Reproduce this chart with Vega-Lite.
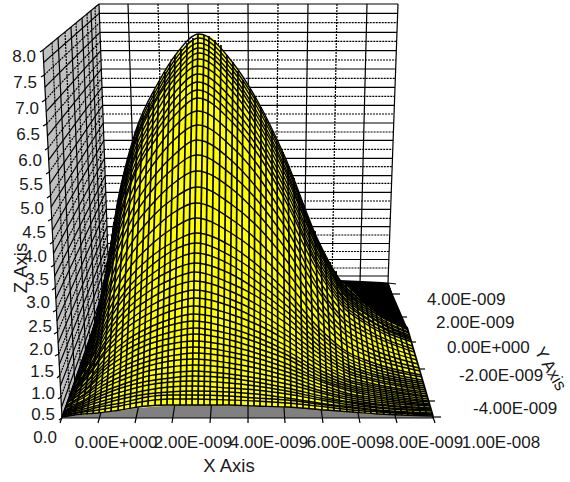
{"$schema":"https://vega.github.io/schema/vega-lite/v6.json","autosize":{"type":"none"},"padding":0,"width":570,"height":482,"background":"white","config":{"view":{"stroke":null},"text":{"font":"Liberation Sans"}},
"datasets":{
"wall":[{"h":43,"top":50,"bot":50},{"h":62,"top":34.4,"bot":418},{"h":99,"top":4,"bot":311.7},{"h":109,"top":283,"bot":283}],
"grid":[
{"h":99,"v":4,"h2":398,"v2":4,"k":"solid"},{"h":99.3,"v":13.3,"h2":397.7,"v2":13.3,"k":"solid"},{"h":99.7,"v":22.7,"h2":397.3,"v2":22.7,"k":"dash"},{"h":100,"v":32.3,"h2":397,"v2":32.3,"k":"solid"},{"h":100.3,"v":41.3,"h2":396.7,"v2":41.3,"k":"dash"},{"h":100.7,"v":50.7,"h2":396.3,"v2":50.7,"k":"solid"},{"h":101,"v":60,"h2":396,"v2":60,"k":"dash"},{"h":101.3,"v":69,"h2":395.7,"v2":69,"k":"solid"},{"h":101.7,"v":78.3,"h2":395.3,"v2":78.3,"k":"dash"},{"h":102,"v":87.3,"h2":395,"v2":87.3,"k":"solid"},{"h":102.3,"v":96.3,"h2":394.7,"v2":96.3,"k":"dash"},{"h":102.6,"v":105.3,"h2":394.4,"v2":105.3,"k":"solid"},{"h":103,"v":114,"h2":394,"v2":114,"k":"dash"},{"h":103.3,"v":123,"h2":393.7,"v2":123,"k":"solid"},{"h":103.6,"v":132,"h2":393.4,"v2":132,"k":"dash"},{"h":103.9,"v":140.3,"h2":393.1,"v2":140.3,"k":"solid"},{"h":104.2,"v":149.3,"h2":392.8,"v2":149.3,"k":"dash"},{"h":104.5,"v":158.3,"h2":392.5,"v2":158.3,"k":"solid"},{"h":104.8,"v":166.7,"h2":392.2,"v2":166.7,"k":"dash"},{"h":105.1,"v":175.7,"h2":391.9,"v2":175.7,"k":"solid"},{"h":105.4,"v":183.3,"h2":391.6,"v2":183.3,"k":"dash"},{"h":105.7,"v":192.3,"h2":391.3,"v2":192.3,"k":"solid"},{"h":106,"v":201,"h2":391,"v2":201,"k":"dash"},{"h":106.3,"v":209.3,"h2":390.7,"v2":209.3,"k":"solid"},{"h":106.7,"v":218.3,"h2":390.3,"v2":218.3,"k":"dash"},{"h":107,"v":226.7,"h2":390,"v2":226.7,"k":"solid"},{"h":107.3,"v":235,"h2":389.7,"v2":235,"k":"dash"},{"h":107.6,"v":243.5,"h2":389.4,"v2":243.5,"k":"solid"},{"h":107.9,"v":251.5,"h2":389.1,"v2":251.5,"k":"dash"},{"h":108.1,"v":259.5,"h2":388.9,"v2":259.5,"k":"solid"},{"h":108.5,"v":268,"h2":388.5,"v2":268,"k":"dash"},{"h":108.7,"v":276,"h2":388.3,"v2":276,"k":"solid"},{"h":109,"v":283,"h2":388,"v2":283,"k":"solid"},
{"h":99,"v":4,"h2":109,"v2":283,"k":"solid"},{"h":128,"v":4,"h2":137,"v2":283,"k":"solid"},{"h":158,"v":4,"h2":165,"v2":283,"k":"dash"},{"h":188,"v":4,"h2":193,"v2":283,"k":"solid"},{"h":218,"v":4,"h2":221,"v2":283,"k":"dash"},{"h":248,"v":4,"h2":249,"v2":283,"k":"solid"},{"h":278,"v":4,"h2":276,"v2":283,"k":"dash"},{"h":308,"v":4,"h2":304,"v2":283,"k":"solid"},{"h":337,"v":4,"h2":332,"v2":283,"k":"dash"},{"h":367,"v":4,"h2":360,"v2":283,"k":"solid"},{"h":398,"v":4,"h2":388,"v2":283,"k":"solid"},
{"h":43,"v":50,"h2":99,"v2":4,"k":"solid"},{"h":43.6,"v":62.5,"h2":99.3,"v2":13.3,"k":"solid"},{"h":44.3,"v":74.9,"h2":99.7,"v2":22.7,"k":"dash"},{"h":44.9,"v":87.2,"h2":100,"v2":32.3,"k":"solid"},{"h":45.6,"v":99.5,"h2":100.3,"v2":41.3,"k":"dash"},{"h":46.2,"v":111.7,"h2":100.7,"v2":50.7,"k":"solid"},{"h":46.8,"v":123.9,"h2":101,"v2":60,"k":"dash"},{"h":47.5,"v":136,"h2":101.3,"v2":69,"k":"solid"},{"h":48.1,"v":148,"h2":101.7,"v2":78.3,"k":"dash"},{"h":48.7,"v":160,"h2":102,"v2":87.3,"k":"solid"},{"h":49.3,"v":171.9,"h2":102.3,"v2":96.3,"k":"dash"},{"h":49.9,"v":183.7,"h2":102.6,"v2":105.3,"k":"solid"},{"h":50.5,"v":195.5,"h2":103,"v2":114,"k":"dash"},{"h":51.1,"v":207.2,"h2":103.3,"v2":123,"k":"solid"},{"h":51.7,"v":218.9,"h2":103.6,"v2":132,"k":"dash"},{"h":52.3,"v":230.5,"h2":103.9,"v2":140.3,"k":"solid"},{"h":52.9,"v":242,"h2":104.2,"v2":149.3,"k":"dash"},{"h":53.5,"v":253.5,"h2":104.5,"v2":158.3,"k":"solid"},{"h":54.1,"v":264.9,"h2":104.8,"v2":166.7,"k":"dash"},{"h":54.7,"v":276.2,"h2":105.1,"v2":175.7,"k":"solid"},{"h":55.3,"v":287.5,"h2":105.4,"v2":183.3,"k":"dash"},{"h":55.8,"v":298.7,"h2":105.7,"v2":192.3,"k":"solid"},{"h":56.4,"v":309.9,"h2":106,"v2":201,"k":"dash"},{"h":57,"v":321,"h2":106.3,"v2":209.3,"k":"solid"},{"h":57.5,"v":332,"h2":106.7,"v2":218.3,"k":"dash"},{"h":58.1,"v":343,"h2":107,"v2":226.7,"k":"solid"},{"h":58.7,"v":353.9,"h2":107.3,"v2":235,"k":"dash"},{"h":59.2,"v":364.7,"h2":107.6,"v2":243.5,"k":"solid"},{"h":59.8,"v":375.5,"h2":107.9,"v2":251.5,"k":"dash"},{"h":60.3,"v":386.2,"h2":108.1,"v2":259.5,"k":"solid"},{"h":60.9,"v":396.9,"h2":108.5,"v2":268,"k":"dash"},{"h":61.4,"v":407.5,"h2":108.7,"v2":276,"k":"solid"},{"h":62,"v":418,"h2":109,"v2":283,"k":"solid"},
{"h":43,"v":50,"h2":62,"v2":418,"k":"solid"},{"h":52,"v":42.6,"h2":69.5,"v2":396.4,"k":"dash"},{"h":58,"v":37.6,"h2":74.7,"v2":381.5,"k":"solid"},{"h":65,"v":32,"h2":80.3,"v2":365,"k":"dash"},{"h":71,"v":27,"h2":85.5,"v2":350.5,"k":"solid"},{"h":76,"v":22.9,"h2":89.7,"v2":338,"k":"dash"},{"h":82,"v":17.8,"h2":94.9,"v2":323.5,"k":"solid"},{"h":87,"v":13.7,"h2":99.1,"v2":311,"k":"dash"},{"h":91,"v":10.4,"h2":102.4,"v2":302,"k":"solid"},{"h":95,"v":7.2,"h2":105.7,"v2":292.5,"k":"dash"}],
"floor":[{"h":62,"top":417,"bot":418},{"h":100,"top":413,"bot":418},{"h":138,"top":408,"bot":418},{"h":175,"top":405,"bot":418},{"h":210,"top":405,"bot":418},{"h":285,"top":407,"bot":418},{"h":318,"top":409,"bot":418},{"h":358,"top":413,"bot":418},{"h":433,"top":416,"bot":418}],
"ticks":[{"h":109,"v":283,"h2":60,"v2":423},{"h":137,"v":283,"h2":98,"v2":423},{"h":165,"v":283,"h2":135,"v2":423},{"h":193,"v":283,"h2":172,"v2":423},{"h":221,"v":283,"h2":210,"v2":423},{"h":248.5,"v":283,"h2":248,"v2":423},{"h":276,"v":283,"h2":285,"v2":423},{"h":304,"v":283,"h2":323,"v2":423},{"h":332,"v":283,"h2":360,"v2":423},{"h":360,"v":283,"h2":397,"v2":423},{"h":388,"v":283,"h2":435,"v2":423},{"h":62,"v":418,"h2":433,"v2":418},{"h":388,"v":283,"h2":433,"v2":418},{"h":388,"v":283,"h2":396,"v2":284},{"h":392,"v":294,"h2":400,"v2":294},{"h":399,"v":317,"h2":407,"v2":317},{"h":408,"v":342,"h2":416,"v2":342},{"h":417,"v":369,"h2":425,"v2":369},{"h":427,"v":401,"h2":435,"v2":401},{"h":433,"v":417,"h2":441,"v2":417},{"h":43,"v":50,"h2":40,"v2":52},{"h":44.3,"v":74.9,"h2":41,"v2":77},{"h":45.6,"v":99.5,"h2":42,"v2":102},{"h":46.8,"v":123.9,"h2":43,"v2":126},{"h":48.1,"v":148,"h2":45,"v2":150},{"h":49.3,"v":171.9,"h2":46,"v2":174},{"h":50.5,"v":195.5,"h2":47,"v2":198},{"h":51.7,"v":218.9,"h2":48,"v2":221},{"h":52.9,"v":242,"h2":50,"v2":244},{"h":54.1,"v":264.9,"h2":51,"v2":267},{"h":55.3,"v":287.5,"h2":52,"v2":290},{"h":56.4,"v":309.9,"h2":53,"v2":312},{"h":57.5,"v":332,"h2":54,"v2":334},{"h":58.7,"v":353.9,"h2":55,"v2":356},{"h":59.8,"v":375.5,"h2":57,"v2":378},{"h":60.9,"v":396.9,"h2":58,"v2":399},{"h":62,"v":418,"h2":59,"v2":420}],
"back":[{"h":340,"top":280,"bot":280},{"h":362,"top":281,"bot":301},{"h":382,"top":282,"bot":318},{"h":388,"top":283,"bot":320},{"h":407,"top":327,"bot":327}],
"surface":[{"h":62,"top":417,"bot":417},{"h":77,"top":378,"bot":415},{"h":92,"top":338,"bot":414},{"h":100,"top":314,"bot":413},{"h":107,"top":268,"bot":412},{"h":112,"top":233,"bot":411},{"h":118,"top":200,"bot":411},{"h":125,"top":167,"bot":410},{"h":135,"top":133,"bot":408},{"h":158,"top":83,"bot":406},{"h":177,"top":53,"bot":405},{"h":199,"top":34,"bot":405},{"h":213,"top":38,"bot":405},{"h":233,"top":63,"bot":405},{"h":257,"top":100,"bot":406},{"h":285,"top":157,"bot":407},{"h":302,"top":200,"bot":408},{"h":318,"top":240,"bot":409},{"h":340,"top":280,"bot":411},{"h":362,"top":301,"bot":413},{"h":382,"top":318,"bot":414},{"h":407,"top":327,"bot":415},{"h":433,"top":416,"bot":416}],
"stations":[
{"h":68,"v":416,"h2":97,"v2":324},{"h":74,"v":415.5,"h2":101,"v2":307},{"h":81,"v":415,"h2":105,"v2":280},{"h":87,"v":414.5,"h2":110,"v2":250},{"h":93,"v":414,"h2":114,"v2":222},{"h":99,"v":413,"h2":119,"v2":198},{"h":105,"v":412,"h2":123,"v2":176},{"h":111,"v":411.5,"h2":128,"v2":157},{"h":118,"v":411,"h2":133,"v2":140},{"h":124,"v":410,"h2":138,"v2":126},{"h":130,"v":409,"h2":143,"v2":115},{"h":136,"v":408,"h2":149,"v2":103},{"h":142,"v":407,"h2":154,"v2":91},{"h":148,"v":406,"h2":159,"v2":81},{"h":155,"v":406,"h2":165,"v2":72},{"h":161,"v":405,"h2":170,"v2":63},{"h":167,"v":405,"h2":175,"v2":55},{"h":173,"v":405,"h2":181,"v2":49},{"h":180,"v":405,"h2":187,"v2":43},{"h":186,"v":405,"h2":193,"v2":38},{"h":192,"v":405,"h2":198,"v2":34},{"h":198,"v":405,"h2":204,"v2":35},{"h":204,"v":405,"h2":209,"v2":36},{"h":210,"v":405,"h2":215,"v2":40},{"h":217,"v":405,"h2":221,"v2":45},{"h":223,"v":405,"h2":227,"v2":55},{"h":229,"v":405,"h2":233,"v2":62},{"h":235,"v":405,"h2":238,"v2":71},{"h":241,"v":405.3,"h2":243,"v2":80},{"h":248,"v":405.5,"h2":250,"v2":89},{"h":254,"v":406,"h2":255,"v2":97},{"h":260,"v":406,"h2":261,"v2":107},{"h":266,"v":406,"h2":266,"v2":119},{"h":272,"v":406.5,"h2":272,"v2":130},{"h":278,"v":407,"h2":277,"v2":141},{"h":285,"v":407,"h2":283,"v2":152},{"h":291,"v":407,"h2":288,"v2":165},{"h":297,"v":408,"h2":294,"v2":178},{"h":303,"v":408,"h2":299,"v2":192},{"h":309,"v":408.5,"h2":304,"v2":205},{"h":315,"v":409,"h2":309,"v2":219},{"h":322,"v":409,"h2":315,"v2":231},{"h":328,"v":410,"h2":320,"v2":243},{"h":334,"v":411,"h2":325,"v2":254},{"h":340,"v":411,"h2":330,"v2":262},{"h":347,"v":412,"h2":336,"v2":271},{"h":353,"v":412.5,"h2":341,"v2":281},{"h":359,"v":413,"h2":346,"v2":285},{"h":365,"v":413,"h2":351,"v2":290},{"h":371,"v":413.5,"h2":356,"v2":295},{"h":377,"v":414,"h2":361,"v2":300},{"h":384,"v":414.5,"h2":366,"v2":304},{"h":390,"v":414.7,"h2":371,"v2":309},{"h":396,"v":415,"h2":376,"v2":313},{"h":402,"v":415,"h2":381,"v2":317},{"h":408,"v":415.3,"h2":386,"v2":320},{"h":414,"v":415.5,"h2":391,"v2":322},{"h":421,"v":415.7,"h2":397,"v2":324},{"h":427,"v":416,"h2":402,"v2":326},{"h":433,"v":416,"h2":407,"v2":327},{"h":62,"v":417,"h2":92,"v2":338}],
"arcs":[
{"a":0,"h":92,"v":338},{"a":0,"h":107,"v":268},{"a":0,"h":118,"v":200},{"a":0,"h":135,"v":133},{"a":0,"h":158,"v":83},{"a":0,"h":177,"v":53},{"a":0,"h":199,"v":34},{"a":0,"h":233,"v":63},{"a":0,"h":257,"v":100},{"a":0,"h":285,"v":157},{"a":0,"h":318,"v":240},{"a":0,"h":340,"v":280},{"a":0,"h":362,"v":301},{"a":0,"h":407,"v":327},
{"a":1,"h":92,"v":339},{"a":1,"h":107,"v":270},{"a":1,"h":118,"v":202},{"a":1,"h":135,"v":136},{"a":1,"h":158,"v":87},{"a":1,"h":177,"v":57},{"a":1,"h":199,"v":38},{"a":1,"h":233,"v":67},{"a":1,"h":257,"v":103},{"a":1,"h":285,"v":160},{"a":1,"h":318,"v":242},{"a":1,"h":340,"v":281},{"a":1,"h":362,"v":302},{"a":1,"h":407,"v":328},
{"a":2,"h":91,"v":340},{"a":2,"h":106,"v":272},{"a":2,"h":118,"v":205},{"a":2,"h":135,"v":140},{"a":2,"h":158,"v":91},{"a":2,"h":177,"v":61},{"a":2,"h":199,"v":43},{"a":2,"h":233,"v":71},{"a":2,"h":257,"v":107},{"a":2,"h":285,"v":163},{"a":2,"h":318,"v":244},{"a":2,"h":340,"v":283},{"a":2,"h":362,"v":304},{"a":2,"h":408,"v":329},
{"a":3,"h":91,"v":341},{"a":3,"h":106,"v":274},{"a":3,"h":117,"v":208},{"a":3,"h":134,"v":144},{"a":3,"h":158,"v":95},{"a":3,"h":177,"v":66},{"a":3,"h":199,"v":48},{"a":3,"h":233,"v":76},{"a":3,"h":257,"v":112},{"a":3,"h":285,"v":167},{"a":3,"h":318,"v":246},{"a":3,"h":340,"v":285},{"a":3,"h":363,"v":305},{"a":3,"h":408,"v":330},
{"a":4,"h":90,"v":342},{"a":4,"h":106,"v":275},{"a":4,"h":117,"v":211},{"a":4,"h":134,"v":147},{"a":4,"h":157,"v":99},{"a":4,"h":177,"v":71},{"a":4,"h":199,"v":53},{"a":4,"h":233,"v":80},{"a":4,"h":257,"v":116},{"a":4,"h":285,"v":170},{"a":4,"h":318,"v":249},{"a":4,"h":341,"v":287},{"a":4,"h":363,"v":307},{"a":4,"h":408,"v":332},
{"a":5,"h":90,"v":343},{"a":5,"h":105,"v":278},{"a":5,"h":117,"v":214},{"a":5,"h":134,"v":152},{"a":5,"h":157,"v":105},{"a":5,"h":176,"v":77},{"a":5,"h":199,"v":59},{"a":5,"h":233,"v":86},{"a":5,"h":257,"v":121},{"a":5,"h":285,"v":174},{"a":5,"h":319,"v":251},{"a":5,"h":341,"v":289},{"a":5,"h":363,"v":309},{"a":5,"h":409,"v":333},
{"a":6,"h":89,"v":345},{"a":6,"h":105,"v":281},{"a":6,"h":116,"v":218},{"a":6,"h":134,"v":157},{"a":6,"h":157,"v":111},{"a":6,"h":176,"v":83},{"a":6,"h":198,"v":66},{"a":6,"h":233,"v":92},{"a":6,"h":257,"v":126},{"a":6,"h":285,"v":179},{"a":6,"h":319,"v":255},{"a":6,"h":341,"v":291},{"a":6,"h":363,"v":311},{"a":6,"h":409,"v":335},
{"a":7,"h":89,"v":347},{"a":7,"h":104,"v":284},{"a":7,"h":116,"v":223},{"a":7,"h":133,"v":163},{"a":7,"h":157,"v":118},{"a":7,"h":176,"v":91},{"a":7,"h":198,"v":74},{"a":7,"h":233,"v":100},{"a":7,"h":257,"v":133},{"a":7,"h":285,"v":184},{"a":7,"h":319,"v":258},{"a":7,"h":341,"v":294},{"a":7,"h":364,"v":313},{"a":7,"h":410,"v":337},
{"a":8,"h":88,"v":348},{"a":8,"h":104,"v":287},{"a":8,"h":115,"v":227},{"a":8,"h":133,"v":169},{"a":8,"h":157,"v":125},{"a":8,"h":176,"v":98},{"a":8,"h":198,"v":82},{"a":8,"h":232,"v":107},{"a":8,"h":257,"v":139},{"a":8,"h":285,"v":189},{"a":8,"h":319,"v":262},{"a":8,"h":342,"v":297},{"a":8,"h":364,"v":316},{"a":8,"h":410,"v":338},
{"a":9,"h":87,"v":350},{"a":9,"h":103,"v":290},{"a":9,"h":115,"v":232},{"a":9,"h":133,"v":175},{"a":9,"h":156,"v":132},{"a":9,"h":176,"v":106},{"a":9,"h":198,"v":90},{"a":9,"h":232,"v":115},{"a":9,"h":257,"v":146},{"a":9,"h":285,"v":195},{"a":9,"h":319,"v":266},{"a":9,"h":342,"v":300},{"a":9,"h":365,"v":318},{"a":9,"h":411,"v":340},
{"a":10,"h":87,"v":352},{"a":10,"h":103,"v":293},{"a":10,"h":115,"v":237},{"a":10,"h":132,"v":181},{"a":10,"h":156,"v":139},{"a":10,"h":176,"v":114},{"a":10,"h":198,"v":98},{"a":10,"h":232,"v":122},{"a":10,"h":257,"v":153},{"a":10,"h":285,"v":200},{"a":10,"h":319,"v":269},{"a":10,"h":342,"v":303},{"a":10,"h":365,"v":321},{"a":10,"h":412,"v":342},
{"a":11,"h":86,"v":354},{"a":11,"h":102,"v":298},{"a":11,"h":114,"v":244},{"a":11,"h":132,"v":191},{"a":11,"h":156,"v":150},{"a":11,"h":175,"v":126},{"a":11,"h":198,"v":111},{"a":11,"h":232,"v":134},{"a":11,"h":257,"v":164},{"a":11,"h":285,"v":209},{"a":11,"h":320,"v":275},{"a":11,"h":343,"v":307},{"a":11,"h":366,"v":324},{"a":11,"h":412,"v":346},
{"a":12,"h":85,"v":357},{"a":12,"h":101,"v":304},{"a":12,"h":113,"v":252},{"a":12,"h":131,"v":201},{"a":12,"h":155,"v":162},{"a":12,"h":175,"v":139},{"a":12,"h":198,"v":125},{"a":12,"h":232,"v":147},{"a":12,"h":257,"v":175},{"a":12,"h":285,"v":218},{"a":12,"h":320,"v":282},{"a":12,"h":343,"v":312},{"a":12,"h":366,"v":329},{"a":12,"h":413,"v":349},
{"a":13,"h":83,"v":361},{"a":13,"h":100,"v":310},{"a":13,"h":112,"v":261},{"a":13,"h":131,"v":212},{"a":13,"h":155,"v":175},{"a":13,"h":175,"v":154},{"a":13,"h":197,"v":140},{"a":13,"h":232,"v":161},{"a":13,"h":257,"v":188},{"a":13,"h":286,"v":228},{"a":13,"h":320,"v":289},{"a":13,"h":343,"v":318},{"a":13,"h":367,"v":333},{"a":13,"h":414,"v":352},
{"a":14,"h":82,"v":364},{"a":14,"h":99,"v":316},{"a":14,"h":111,"v":269},{"a":14,"h":130,"v":223},{"a":14,"h":154,"v":188},{"a":14,"h":174,"v":168},{"a":14,"h":197,"v":155},{"a":14,"h":232,"v":175},{"a":14,"h":257,"v":200},{"a":14,"h":286,"v":239},{"a":14,"h":321,"v":295},{"a":14,"h":344,"v":323},{"a":14,"h":368,"v":338},{"a":14,"h":415,"v":356},
{"a":15,"h":81,"v":367},{"a":15,"h":98,"v":322},{"a":15,"h":111,"v":279},{"a":15,"h":129,"v":235},{"a":15,"h":154,"v":202},{"a":15,"h":174,"v":183},{"a":15,"h":197,"v":171},{"a":15,"h":232,"v":189},{"a":15,"h":257,"v":213},{"a":15,"h":286,"v":249},{"a":15,"h":321,"v":303},{"a":15,"h":344,"v":329},{"a":15,"h":368,"v":343},{"a":15,"h":417,"v":360},
{"a":16,"h":80,"v":371},{"a":16,"h":97,"v":328},{"a":16,"h":110,"v":288},{"a":16,"h":129,"v":247},{"a":16,"h":153,"v":216},{"a":16,"h":174,"v":198},{"a":16,"h":197,"v":187},{"a":16,"h":231,"v":204},{"a":16,"h":257,"v":226},{"a":16,"h":286,"v":260},{"a":16,"h":321,"v":310},{"a":16,"h":345,"v":334},{"a":16,"h":369,"v":348},{"a":16,"h":418,"v":364},
{"a":17,"h":78,"v":374},{"a":17,"h":96,"v":335},{"a":17,"h":109,"v":297},{"a":17,"h":128,"v":259},{"a":17,"h":153,"v":230},{"a":17,"h":173,"v":213},{"a":17,"h":196,"v":203},{"a":17,"h":231,"v":219},{"a":17,"h":257,"v":240},{"a":17,"h":286,"v":271},{"a":17,"h":322,"v":317},{"a":17,"h":345,"v":340},{"a":17,"h":370,"v":353},{"a":17,"h":419,"v":368},
{"a":18,"h":77,"v":377},{"a":18,"h":95,"v":341},{"a":18,"h":108,"v":306},{"a":18,"h":128,"v":270},{"a":18,"h":153,"v":243},{"a":18,"h":173,"v":228},{"a":18,"h":196,"v":218},{"a":18,"h":231,"v":233},{"a":18,"h":257,"v":252},{"a":18,"h":286,"v":281},{"a":18,"h":322,"v":324},{"a":18,"h":346,"v":345},{"a":18,"h":370,"v":357},{"a":18,"h":420,"v":371},
{"a":19,"h":76,"v":380},{"a":19,"h":94,"v":347},{"a":19,"h":107,"v":314},{"a":19,"h":127,"v":281},{"a":19,"h":152,"v":256},{"a":19,"h":173,"v":242},{"a":19,"h":196,"v":233},{"a":19,"h":231,"v":246},{"a":19,"h":256,"v":264},{"a":19,"h":286,"v":291},{"a":19,"h":322,"v":331},{"a":19,"h":346,"v":351},{"a":19,"h":371,"v":362},{"a":19,"h":421,"v":375},
{"a":20,"h":75,"v":382},{"a":20,"h":93,"v":351},{"a":20,"h":107,"v":320},{"a":20,"h":127,"v":289},{"a":20,"h":152,"v":265},{"a":20,"h":172,"v":251},{"a":20,"h":196,"v":243},{"a":20,"h":231,"v":256},{"a":20,"h":256,"v":272},{"a":20,"h":286,"v":298},{"a":20,"h":323,"v":336},{"a":20,"h":347,"v":354},{"a":20,"h":372,"v":365},{"a":20,"h":422,"v":377},
{"a":21,"h":74,"v":385},{"a":21,"h":93,"v":354},{"a":21,"h":106,"v":326},{"a":21,"h":126,"v":296},{"a":21,"h":152,"v":274},{"a":21,"h":172,"v":261},{"a":21,"h":195,"v":253},{"a":21,"h":231,"v":265},{"a":21,"h":256,"v":281},{"a":21,"h":286,"v":305},{"a":21,"h":323,"v":340},{"a":21,"h":347,"v":358},{"a":21,"h":372,"v":368},{"a":21,"h":422,"v":380},
{"a":22,"h":73,"v":387},{"a":22,"h":92,"v":358},{"a":22,"h":106,"v":331},{"a":22,"h":126,"v":304},{"a":22,"h":151,"v":282},{"a":22,"h":172,"v":270},{"a":22,"h":195,"v":263},{"a":22,"h":231,"v":274},{"a":22,"h":256,"v":289},{"a":22,"h":286,"v":311},{"a":22,"h":323,"v":345},{"a":22,"h":347,"v":361},{"a":22,"h":372,"v":371},{"a":22,"h":423,"v":382},
{"a":23,"h":73,"v":389},{"a":23,"h":92,"v":362},{"a":23,"h":105,"v":337},{"a":23,"h":125,"v":311},{"a":23,"h":151,"v":290},{"a":23,"h":172,"v":279},{"a":23,"h":195,"v":272},{"a":23,"h":230,"v":283},{"a":23,"h":256,"v":296},{"a":23,"h":286,"v":317},{"a":23,"h":323,"v":349},{"a":23,"h":348,"v":365},{"a":23,"h":373,"v":374},{"a":23,"h":424,"v":384},
{"a":24,"h":72,"v":391},{"a":24,"h":91,"v":366},{"a":24,"h":105,"v":342},{"a":24,"h":125,"v":317},{"a":24,"h":151,"v":298},{"a":24,"h":172,"v":287},{"a":24,"h":195,"v":281},{"a":24,"h":230,"v":291},{"a":24,"h":256,"v":304},{"a":24,"h":286,"v":323},{"a":24,"h":323,"v":353},{"a":24,"h":348,"v":368},{"a":24,"h":373,"v":376},{"a":24,"h":424,"v":386},
{"a":25,"h":71,"v":393},{"a":25,"h":90,"v":369},{"a":25,"h":104,"v":347},{"a":25,"h":125,"v":324},{"a":25,"h":150,"v":306},{"a":25,"h":171,"v":296},{"a":25,"h":195,"v":290},{"a":25,"h":230,"v":299},{"a":25,"h":256,"v":311},{"a":25,"h":286,"v":330},{"a":25,"h":324,"v":357},{"a":25,"h":348,"v":371},{"a":25,"h":374,"v":379},{"a":25,"h":425,"v":388},
{"a":26,"h":70,"v":394},{"a":26,"h":90,"v":372},{"a":26,"h":104,"v":352},{"a":26,"h":124,"v":330},{"a":26,"h":150,"v":313},{"a":26,"h":171,"v":304},{"a":26,"h":195,"v":298},{"a":26,"h":230,"v":306},{"a":26,"h":256,"v":318},{"a":26,"h":286,"v":335},{"a":26,"h":324,"v":361},{"a":26,"h":349,"v":374},{"a":26,"h":374,"v":381},{"a":26,"h":425,"v":390},
{"a":27,"h":70,"v":396},{"a":27,"h":89,"v":375},{"a":27,"h":103,"v":356},{"a":27,"h":124,"v":336},{"a":27,"h":150,"v":320},{"a":27,"h":171,"v":311},{"a":27,"h":195,"v":306},{"a":27,"h":230,"v":314},{"a":27,"h":256,"v":324},{"a":27,"h":286,"v":340},{"a":27,"h":324,"v":365},{"a":27,"h":349,"v":377},{"a":27,"h":374,"v":384},{"a":27,"h":426,"v":392},
{"a":28,"h":69,"v":398},{"a":28,"h":89,"v":379},{"a":28,"h":103,"v":361},{"a":28,"h":124,"v":342},{"a":28,"h":150,"v":327},{"a":28,"h":171,"v":319},{"a":28,"h":194,"v":314},{"a":28,"h":230,"v":321},{"a":28,"h":256,"v":331},{"a":28,"h":287,"v":346},{"a":28,"h":324,"v":368},{"a":28,"h":349,"v":380},{"a":28,"h":375,"v":386},{"a":28,"h":427,"v":394},
{"a":29,"h":69,"v":399},{"a":29,"h":88,"v":381},{"a":29,"h":103,"v":365},{"a":29,"h":123,"v":347},{"a":29,"h":149,"v":333},{"a":29,"h":171,"v":325},{"a":29,"h":194,"v":321},{"a":29,"h":230,"v":328},{"a":29,"h":256,"v":337},{"a":29,"h":287,"v":351},{"a":29,"h":324,"v":372},{"a":29,"h":349,"v":382},{"a":29,"h":375,"v":388},{"a":29,"h":427,"v":396},
{"a":30,"h":68,"v":401},{"a":30,"h":88,"v":384},{"a":30,"h":102,"v":369},{"a":30,"h":123,"v":352},{"a":30,"h":149,"v":339},{"a":30,"h":171,"v":332},{"a":30,"h":194,"v":328},{"a":30,"h":230,"v":334},{"a":30,"h":256,"v":342},{"a":30,"h":287,"v":355},{"a":30,"h":324,"v":375},{"a":30,"h":350,"v":385},{"a":30,"h":375,"v":390},{"a":30,"h":428,"v":397},
{"a":31,"h":68,"v":402},{"a":31,"h":88,"v":387},{"a":31,"h":102,"v":372},{"a":31,"h":123,"v":357},{"a":31,"h":149,"v":344},{"a":31,"h":171,"v":338},{"a":31,"h":194,"v":334},{"a":31,"h":230,"v":340},{"a":31,"h":256,"v":348},{"a":31,"h":287,"v":359},{"a":31,"h":324,"v":378},{"a":31,"h":350,"v":387},{"a":31,"h":376,"v":392},{"a":31,"h":428,"v":399},
{"a":32,"h":67,"v":403},{"a":32,"h":87,"v":389},{"a":32,"h":101,"v":376},{"a":32,"h":123,"v":362},{"a":32,"h":149,"v":350},{"a":32,"h":170,"v":344},{"a":32,"h":194,"v":341},{"a":32,"h":230,"v":346},{"a":32,"h":256,"v":353},{"a":32,"h":287,"v":364},{"a":32,"h":325,"v":381},{"a":32,"h":350,"v":389},{"a":32,"h":376,"v":394},{"a":32,"h":429,"v":401},
{"a":33,"h":67,"v":405},{"a":33,"h":87,"v":392},{"a":33,"h":101,"v":380},{"a":33,"h":122,"v":367},{"a":33,"h":149,"v":356},{"a":33,"h":170,"v":350},{"a":33,"h":194,"v":347},{"a":33,"h":230,"v":352},{"a":33,"h":256,"v":358},{"a":33,"h":287,"v":368},{"a":33,"h":325,"v":383},{"a":33,"h":350,"v":391},{"a":33,"h":376,"v":396},{"a":33,"h":429,"v":402},
{"a":34,"h":66,"v":406},{"a":34,"h":86,"v":394},{"a":34,"h":101,"v":383},{"a":34,"h":122,"v":371},{"a":34,"h":149,"v":361},{"a":34,"h":170,"v":356},{"a":34,"h":194,"v":353},{"a":34,"h":230,"v":357},{"a":34,"h":256,"v":363},{"a":34,"h":287,"v":372},{"a":34,"h":325,"v":386},{"a":34,"h":350,"v":394},{"a":34,"h":377,"v":398},{"a":34,"h":429,"v":404},
{"a":35,"h":66,"v":407},{"a":35,"h":86,"v":396},{"a":35,"h":100,"v":387},{"a":35,"h":122,"v":376},{"a":35,"h":148,"v":366},{"a":35,"h":170,"v":361},{"a":35,"h":194,"v":359},{"a":35,"h":229,"v":363},{"a":35,"h":256,"v":368},{"a":35,"h":287,"v":376},{"a":35,"h":325,"v":389},{"a":35,"h":351,"v":396},{"a":35,"h":377,"v":400},{"a":35,"h":430,"v":405},
{"a":36,"h":65,"v":408},{"a":36,"h":86,"v":399},{"a":36,"h":100,"v":390},{"a":36,"h":122,"v":380},{"a":36,"h":148,"v":371},{"a":36,"h":170,"v":367},{"a":36,"h":194,"v":365},{"a":36,"h":229,"v":368},{"a":36,"h":256,"v":373},{"a":36,"h":287,"v":380},{"a":36,"h":325,"v":392},{"a":36,"h":351,"v":398},{"a":36,"h":377,"v":402},{"a":36,"h":430,"v":406},
{"a":37,"h":65,"v":410},{"a":37,"h":85,"v":401},{"a":37,"h":100,"v":393},{"a":37,"h":121,"v":385},{"a":37,"h":148,"v":376},{"a":37,"h":170,"v":373},{"a":37,"h":194,"v":371},{"a":37,"h":229,"v":374},{"a":37,"h":256,"v":378},{"a":37,"h":287,"v":384},{"a":37,"h":325,"v":394},{"a":37,"h":351,"v":400},{"a":37,"h":377,"v":404},{"a":37,"h":431,"v":408},
{"a":38,"h":64,"v":411},{"a":38,"h":85,"v":403},{"a":38,"h":100,"v":396},{"a":38,"h":121,"v":388},{"a":38,"h":148,"v":381},{"a":38,"h":170,"v":378},{"a":38,"h":193,"v":376},{"a":38,"h":229,"v":378},{"a":38,"h":256,"v":382},{"a":38,"h":287,"v":388},{"a":38,"h":325,"v":397},{"a":38,"h":351,"v":402},{"a":38,"h":378,"v":405},{"a":38,"h":431,"v":409},
{"a":39,"h":64,"v":412},{"a":39,"h":85,"v":405},{"a":39,"h":99,"v":399},{"a":39,"h":121,"v":392},{"a":39,"h":148,"v":385},{"a":39,"h":170,"v":382},{"a":39,"h":193,"v":381},{"a":39,"h":229,"v":383},{"a":39,"h":256,"v":386},{"a":39,"h":287,"v":391},{"a":39,"h":325,"v":399},{"a":39,"h":351,"v":403},{"a":39,"h":378,"v":407},{"a":39,"h":431,"v":410},
{"a":40,"h":64,"v":413},{"a":40,"h":84,"v":407},{"a":40,"h":99,"v":402},{"a":40,"h":121,"v":396},{"a":40,"h":148,"v":390},{"a":40,"h":169,"v":387},{"a":40,"h":193,"v":386},{"a":40,"h":229,"v":388},{"a":40,"h":256,"v":390},{"a":40,"h":287,"v":394},{"a":40,"h":326,"v":401},{"a":40,"h":351,"v":405},{"a":40,"h":378,"v":408},{"a":40,"h":432,"v":411},
{"a":41,"h":63,"v":414},{"a":41,"h":84,"v":409},{"a":41,"h":99,"v":405},{"a":41,"h":121,"v":399},{"a":41,"h":147,"v":394},{"a":41,"h":169,"v":392},{"a":41,"h":193,"v":391},{"a":41,"h":229,"v":392},{"a":41,"h":256,"v":394},{"a":41,"h":287,"v":398},{"a":41,"h":326,"v":404},{"a":41,"h":352,"v":407},{"a":41,"h":378,"v":410},{"a":41,"h":432,"v":413},
{"a":42,"h":63,"v":415},{"a":42,"h":84,"v":411},{"a":42,"h":99,"v":407},{"a":42,"h":121,"v":403},{"a":42,"h":147,"v":397},{"a":42,"h":169,"v":395},{"a":42,"h":193,"v":395},{"a":42,"h":229,"v":396},{"a":42,"h":256,"v":398},{"a":42,"h":287,"v":400},{"a":42,"h":326,"v":405},{"a":42,"h":352,"v":408},{"a":42,"h":379,"v":411},{"a":42,"h":432,"v":414},
{"a":43,"h":62,"v":416},{"a":43,"h":83,"v":412},{"a":43,"h":98,"v":410},{"a":43,"h":120,"v":406},{"a":43,"h":147,"v":401},{"a":43,"h":169,"v":399},{"a":43,"h":193,"v":399},{"a":43,"h":229,"v":400},{"a":43,"h":256,"v":401},{"a":43,"h":287,"v":403},{"a":43,"h":326,"v":407},{"a":43,"h":352,"v":410},{"a":43,"h":379,"v":412},{"a":43,"h":433,"v":415},
{"a":44,"h":62,"v":417},{"a":44,"h":83,"v":414},{"a":44,"h":98,"v":413},{"a":44,"h":120,"v":410},{"a":44,"h":147,"v":406},{"a":44,"h":169,"v":405},{"a":44,"h":193,"v":405},{"a":44,"h":229,"v":405},{"a":44,"h":256,"v":406},{"a":44,"h":287,"v":407},{"a":44,"h":326,"v":410},{"a":44,"h":352,"v":412},{"a":44,"h":379,"v":414},{"a":44,"h":433,"v":416}],
"zlabels":[{"t":"8.0","h":36,"v":57},{"t":"7.5","h":37,"v":83},{"t":"7.0","h":39,"v":109},{"t":"6.5","h":40,"v":135},{"t":"6.0","h":42,"v":161},{"t":"5.5","h":43,"v":185},{"t":"5.0","h":44,"v":209},{"t":"4.5","h":46,"v":233},{"t":"4.0","h":47,"v":257},{"t":"3.5","h":49,"v":280},{"t":"3.0","h":50,"v":303},{"t":"2.5","h":52,"v":327},{"t":"2.0","h":53,"v":350},{"t":"1.5","h":54,"v":372},{"t":"1.0","h":55,"v":394},{"t":"0.5","h":55,"v":415},{"t":"0.0","h":57,"v":438}],
"ylabels":[{"t":"4.00E-009","h":427,"v":300},{"t":"2.00E-009","h":436,"v":323},{"t":"0.00E+000","h":447,"v":348},{"t":"-2.00E-009","h":459,"v":376},{"t":"-4.00E-009","h":473,"v":409}],
"xlabels":[{"t":"0.00E+000","h":116,"v":443},{"t":"2.00E-009","h":193,"v":443},{"t":"4.00E-009","h":269,"v":443},{"t":"6.00E-009","h":346,"v":443},{"t":"8.00E-009","h":424,"v":443},{"t":"1.00E-008","h":501,"v":443}],
"titles":[{"t":"X Axis","h":229,"v":466}],"ztitle":[{"t":"Z Axis","h":21,"v":268}],"ytitle":[{"t":"Y Axis","h":550,"v":369}]
},
"encoding":{"x":{"field":"h","type":"quantitative","scale":{"domain":[0,570],"nice":false,"zero":false},"axis":null}},
"layer":[
{"data":{"name":"wall"},"mark":{"type":"area","color":"#C0C0C0"},"encoding":{"y":{"field":"top","type":"quantitative","scale":{"domain":[482,0],"nice":false,"zero":false},"axis":null},"y2":{"field":"bot"}}},
{"data":{"name":"grid"},"mark":{"type":"rule","color":"#000000","strokeWidth":1.2},"encoding":{"y":{"field":"v","type":"quantitative","scale":{"domain":[482,0],"nice":false,"zero":false},"axis":null},"x2":{"field":"h2"},"y2":{"field":"v2"},"strokeDash":{"field":"k","type":"nominal","scale":{"domain":["solid","dash"],"range":[[1,0],[2,1]]},"legend":null}}},
{"data":{"name":"floor"},"mark":{"type":"area","color":"#808080"},"encoding":{"y":{"field":"top","type":"quantitative","scale":{"domain":[482,0],"nice":false,"zero":false},"axis":null},"y2":{"field":"bot"}}},
{"data":{"name":"ticks"},"mark":{"type":"rule","color":"#000000","strokeWidth":1.2},"encoding":{"y":{"field":"v","type":"quantitative","scale":{"domain":[482,0],"nice":false,"zero":false},"axis":null},"x2":{"field":"h2"},"y2":{"field":"v2"}}},
{"data":{"name":"back"},"mark":{"type":"area","color":"#000000"},"encoding":{"y":{"field":"top","type":"quantitative","scale":{"domain":[482,0],"nice":false,"zero":false},"axis":null},"y2":{"field":"bot"}}},
{"data":{"name":"surface"},"mark":{"type":"area","color":"#FFFF00"},"encoding":{"y":{"field":"top","type":"quantitative","scale":{"domain":[482,0],"nice":false,"zero":false},"axis":null},"y2":{"field":"bot"}}},
{"data":{"name":"arcs"},"mark":{"type":"line","color":"#000000","strokeWidth":1.4,"interpolate":"monotone"},"encoding":{"y":{"field":"v","type":"quantitative","scale":{"domain":[482,0],"nice":false,"zero":false},"axis":null},"detail":{"field":"a","type":"nominal"}}},
{"data":{"name":"stations"},"mark":{"type":"rule","color":"#000000","strokeWidth":1.7},"encoding":{"y":{"field":"v","type":"quantitative","scale":{"domain":[482,0],"nice":false,"zero":false},"axis":null},"x2":{"field":"h2"},"y2":{"field":"v2"}}},
{"data":{"name":"zlabels"},"mark":{"type":"text","align":"right","baseline":"middle","fontSize":17,"color":"#1a1a1a"},"encoding":{"y":{"field":"v","type":"quantitative","scale":{"domain":[482,0],"nice":false,"zero":false},"axis":null},"text":{"field":"t"}}},
{"data":{"name":"ylabels"},"mark":{"type":"text","align":"left","baseline":"middle","fontSize":17,"color":"#1a1a1a"},"encoding":{"y":{"field":"v","type":"quantitative","scale":{"domain":[482,0],"nice":false,"zero":false},"axis":null},"text":{"field":"t"}}},
{"data":{"name":"xlabels"},"mark":{"type":"text","align":"center","baseline":"middle","fontSize":17,"color":"#1a1a1a"},"encoding":{"y":{"field":"v","type":"quantitative","scale":{"domain":[482,0],"nice":false,"zero":false},"axis":null},"text":{"field":"t"}}},
{"data":{"name":"titles"},"mark":{"type":"text","align":"center","baseline":"middle","fontSize":18.5,"color":"#1a1a1a"},"encoding":{"y":{"field":"v","type":"quantitative","scale":{"domain":[482,0],"nice":false,"zero":false},"axis":null},"text":{"field":"t"}}},
{"data":{"name":"ztitle"},"mark":{"type":"text","align":"center","baseline":"middle","fontSize":18.5,"angle":270,"color":"#1a1a1a"},"encoding":{"y":{"field":"v","type":"quantitative","scale":{"domain":[482,0],"nice":false,"zero":false},"axis":null},"text":{"field":"t"}}},
{"data":{"name":"ytitle"},"mark":{"type":"text","align":"center","baseline":"middle","fontSize":17,"angle":60,"color":"#1a1a1a"},"encoding":{"y":{"field":"v","type":"quantitative","scale":{"domain":[482,0],"nice":false,"zero":false},"axis":null},"text":{"field":"t"}}}
]}
